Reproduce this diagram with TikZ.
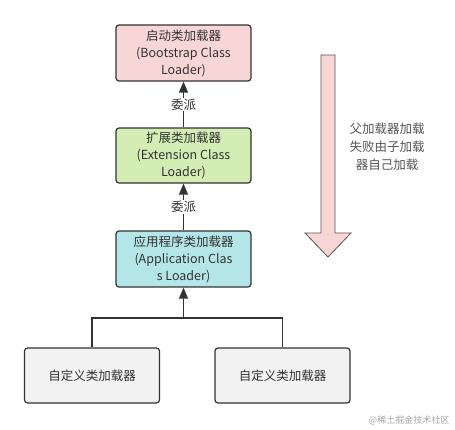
\documentclass[tikz,border=0pt]{standalone}
\usepackage{fontspec}
\setmainfont{Noto Sans CJK SC}
\usetikzlibrary{arrows.meta, positioning}

\definecolor{bootfill}{HTML}{F8D6D6}
\definecolor{extfill}{HTML}{D3EDB5}
\definecolor{appfill}{HTML}{B4E6E8}
\definecolor{custfill}{HTML}{F2F2F2}
\definecolor{edge}{HTML}{333333}
\definecolor{hint}{HTML}{555555}

\tikzset{
	loader/.style={draw=edge, line width=1.2pt, rounded corners=3pt, minimum width=135pt,
		minimum height=56pt, align=center, font=\fontsize{12.5}{17}\selectfont, text=edge},
	delegate/.style={draw=edge, line width=1.3pt, -{Triangle[length=11pt, width=9pt]}},
	tag/.style={fill=white, inner sep=1pt, font=\fontsize{12.5}{14}\selectfont, text=edge}
}

\begin{document}
\begin{tikzpicture}[x=1pt, y=-1pt]
			\useasboundingbox (0,0) rectangle (455,429);

			\def\xMID{183.5};

			\begin{scope}
				\node[loader, fill=bootfill] (boot) at (\xMID,53) {启动类加载器\\(Bootstrap Class\\Loader)};
				\node[loader, fill=extfill, minimum height=55pt] (ext) at (\xMID,155.5) {扩展类加载器\\(Extension Class\\Loader)};
				\node[loader, fill=appfill] (app) at (\xMID,259) { 应用程序类加载器\\ (Application Clas\\s Loader)};
			\end{scope}

			\begin{scope}
				\node[loader, fill=custfill, minimum height=55pt] (custA) at (92,375.5) {自定义类加载器};
				\node[loader, fill=custfill, minimum height=55pt] (custB) at (282.5,375.5) {自定义类加载器};
			\end{scope}

			\coordinate (join) at (\xMID,318);

			\draw[delegate] (ext) -- node[tag] {委派} (boot);
			\draw[delegate] (app) -- node[tag] {委派} (ext);
			\draw[draw=edge, line width=1.3pt] (custA.north) |- (join) -| (custB.north);
			\draw[delegate] (join) -- (app);

			% fallback arrow
			\draw[draw=hint, line width=0.8pt, fill=bootfill]
				(321,55) -- (335,55) -- (335,233) -- (351,233) -- (328,257) -- (305,233) -- (321,233) -- cycle;
			\node[align=center, text=hint, font=\fontsize{12.5}{18}\selectfont] (fallback) at (387,147) {父加载器加载\\失败由子加载\\器自己加载};

			\node[text=gray!70, font=\fontsize{9}{10}\selectfont] (mark) at (409,420) {@稀土掘金技术社区};
		\end{tikzpicture}
\end{document}
